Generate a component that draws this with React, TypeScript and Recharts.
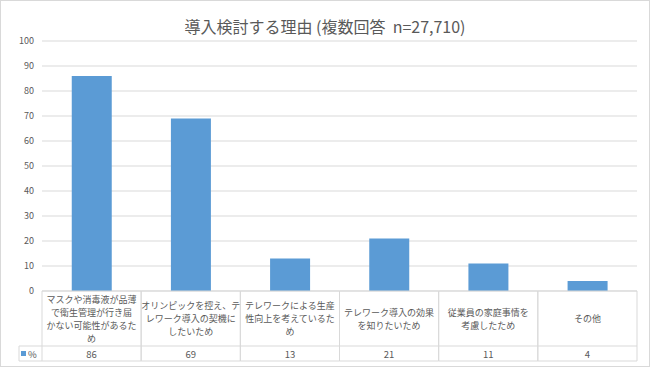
import { Bar, BarChart, CartesianGrid, XAxis, YAxis } from 'recharts'

const reasons = [
  ['マスクや消毒液が品薄', 'で衛生管理が行き届', 'かない可能性があるた', 'め'],
  ['オリンピックを控え、テ', 'レワーク導入の契機に', 'したいため'],
  ['テレワークによる生産', '性向上を考えているた', 'め'],
  ['テレワーク導入の効果', 'を知りたいため'],
  ['従業員の家庭事情を', '考慮したため'],
  ['その他'],
]
const percents = [86, 69, 13, 21, 11, 4]
const yTicks = [0, 10, 20, 30, 40, 50, 60, 70, 80, 90, 100]

const rows = reasons.map((lines, i) => ({ key: String(i), value: percents[i] }))

const font = '"Noto Sans CJK JP", "Noto Sans", sans-serif'
const textColor = '#595959'
const lineColor = '#d9d9d9'

function TableTick(props: any) {
  const { x, y, payload, visibleTicksCount } = props
  const idx = Number(payload.value)
  const w = 595 / (visibleTicksCount || 6)
  const left = x - w / 2
  const right = x + w / 2
  const top = y
  const mid = top + 55
  const bottom = top + 70
  const lines = reasons[idx]
  const lh = 13
  const center = top + 27.5
  const start = center - ((lines.length - 1) * lh) / 2
  return (
    <g>
      <line x1={left} y1={top} x2={right} y2={top} stroke={lineColor} />
      <line x1={left} y1={mid} x2={right} y2={mid} stroke={lineColor} />
      <line x1={left} y1={bottom} x2={right} y2={bottom} stroke={lineColor} />
      <line x1={left} y1={top} x2={left} y2={bottom} stroke={lineColor} />
      <line x1={right} y1={top} x2={right} y2={bottom} stroke={lineColor} />
      {lines.map((t, i) => (
        <text
          key={i}
          x={x}
          y={start + i * lh}
          textAnchor="middle"
          dominantBaseline="central"
          fontSize={9}
          fontFamily={font}
          fill={textColor}
        >
          {t}
        </text>
      ))}
      <text
        x={x}
        y={mid + 7.5}
        textAnchor="middle"
        dominantBaseline="central"
        fontSize={9.5}
        fontFamily={font}
        fill={textColor}
      >
        {percents[idx]}
      </text>
      {idx === 0 && (
        <g>
          <line x1={19} y1={mid} x2={left} y2={mid} stroke={lineColor} />
          <line x1={19} y1={bottom} x2={left} y2={bottom} stroke={lineColor} />
          <line x1={19} y1={mid} x2={19} y2={bottom} stroke={lineColor} />
          <rect x={21} y={mid + 5} width={5} height={5} fill="#5b9bd5" />
          <text
            x={28}
            y={mid + 7.5}
            dominantBaseline="central"
            fontSize={9.5}
            fontFamily={font}
            fill={textColor}
          >
            %
          </text>
        </g>
      )}
    </g>
  )
}

export default function App() {
  return (
    <div
      style={{
        position: 'absolute',
        left: 0,
        top: 0,
        width: 650,
        height: 367,
        background: '#fff',
        boxSizing: 'border-box',
        border: '1px solid #d9d9d9',
      }}
    >
      <div
        style={{
          position: 'absolute',
          top: 13,
          left: 0,
          width: 648,
          textAlign: 'center',
          fontFamily: font,
          fontSize: 16,
          color: textColor,
          lineHeight: '24px',
        }}
      >
        導入検討する理由 (複数回答&nbsp;&nbsp;n=27,710)
      </div>
      <div style={{ position: 'absolute', left: -1, top: -1 }}>
        <BarChart
          width={650}
          height={367}
          data={rows}
          margin={{ top: 41, right: 13, bottom: 0, left: 0 }}
          barCategoryGap="30%"
        >
          <CartesianGrid vertical={false} stroke={lineColor} />
          <XAxis
            dataKey="key"
            height={76}
            axisLine={false}
            tickLine={false}
            interval={0}
            tick={<TableTick />}
            tickMargin={0}
            tickSize={0}
          />
          <YAxis
            width={42}
            domain={[0, 100]}
            ticks={yTicks}
            axisLine={false}
            tickLine={false}
            tick={{ fontSize: 9, fill: textColor, fontFamily: font }}
          />
          <Bar dataKey="value" fill="#5b9bd5" isAnimationActive={false} />
        </BarChart>
      </div>
    </div>
  )
}
